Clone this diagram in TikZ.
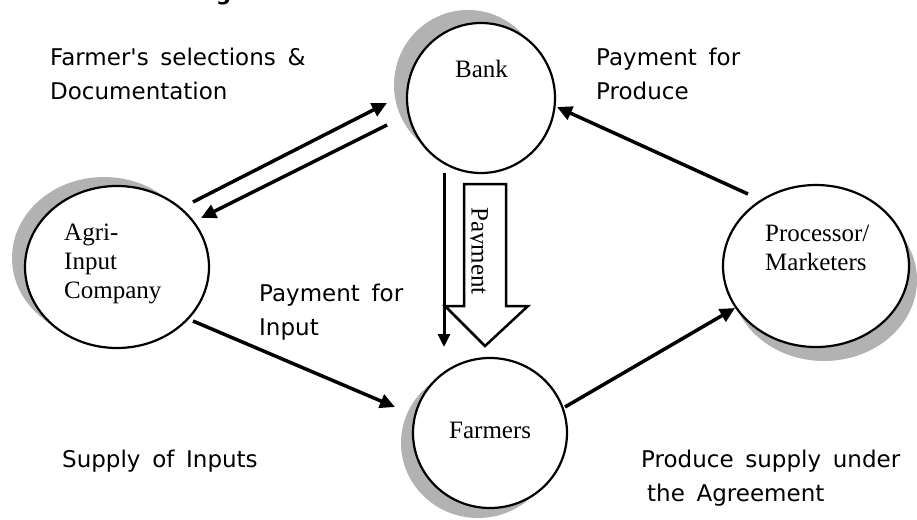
\documentclass[tikz,border=0pt]{standalone}
\usepackage{fontspec}
\setmainfont{Liberation Serif}
\newfontfamily\labfont[WordSpace=1.6]{DejaVu Sans}
\usetikzlibrary{arrows.meta,calc,shapes.geometric}
\begin{document}
\begin{tikzpicture}[x=1pt,y=-1pt,
  ent/.style={ellipse,draw,line width=2.2pt,fill=white,inner sep=0pt},
  shadowfill/.style={fill=black!30},
  conn/.style={line width=3.5pt,-{Triangle[length=15pt,width=14pt]}},
  ctext/.style={font=\fontsize{25}{29}\selectfont,align=left,anchor=base west,inner sep=0pt},
  lab/.style={font=\labfont\fontsize{23}{34}\selectfont,align=left,anchor=base west,inner sep=0pt}
]
\path[use as bounding box] (0,0) rectangle (917,519);

% shadows
\fill[shadowfill] (468,85) ellipse [x radius=74pt, y radius=75pt];
\fill[shadowfill] (104,258) ellipse [x radius=92pt, y radius=81pt];
\fill[shadowfill] (824,280) ellipse [x radius=93pt, y radius=81pt];
\fill[shadowfill] (478,443) ellipse [x radius=77pt, y radius=75pt];

% entities
\node[ent,minimum width=148pt,minimum height=150pt] (bank) at (481,98) {};
\node[ent,minimum width=184pt,minimum height=162pt] (agri) at (117,267) {};
\node[ent,minimum width=186pt,minimum height=162pt] (proc) at (816,266) {};
\node[ent,minimum width=154pt,minimum height=150pt] (farm) at (490,433) {};

\node[ctext] (bankt) at (455,77) {Bank};
\node[ctext] (agrit) at (64,298) {Agri-\\Input\\Company};
\node[ctext] (proct) at (765,270) {Processor/\\Marketers};
\node[ctext] (farmt) at (449,438) {Farmers};

% hollow payment arrow
\draw[line width=2.5pt,fill=white] (464,184) -- (506,184) -- (506,306) -- (528,306)
  -- (485,346) -- (445,306) -- (464,306) -- cycle;
\begin{scope}
  \clip (470,186) rectangle (504,304);
  \node[font=\fontsize{25}{29}\selectfont,rotate=-90,anchor=base west,inner sep=0pt] (payt) at (471.5,207) {Payment};
\end{scope}

% connectors
\draw[conn] ($(agri.center)+(76,-65)$) -- ($(bank.center)+(-94,5)$);
\draw[conn] ($(bank.center)+(-94,27)$) -- ($(agri.center)+(84,-49)$);
\draw[conn] ($(agri.center)+(76,54)$) -- ($(farm.center)+(-95,-26)$);
\draw[conn] ($(farm.center)+(75,-26)$) -- ($(proc.center)+(-81,42)$);
\draw[conn] ($(proc.center)+(-68,-72)$) -- ($(bank.center)+(76,9)$);
\draw[line width=3pt,-{Triangle[length=13pt,width=12pt]}] ($(bank.center)+(-37,75)$) -- ($(farm.center)+(-46,-86)$);

% labels
\node[lab] (l1) at (50,99) {Farmer's selections \&\\Documentation};
\node[lab] (l2) at (596,99) {Payment for\\Produce};
\node[lab] (l3) at (259,335) {Payment for\\Input};
\node[lab] (l4) at (62,467) {Supply of Inputs};
\node[lab] (l5) at (641,501) {Produce supply under\\\hspace*{6pt}the Agreement};
\node[font=\labfont\bfseries\fontsize{21}{21}\selectfont,anchor=base west,inner sep=0pt] (title) at (216,0.5) {g};
\end{tikzpicture}
\end{document}
